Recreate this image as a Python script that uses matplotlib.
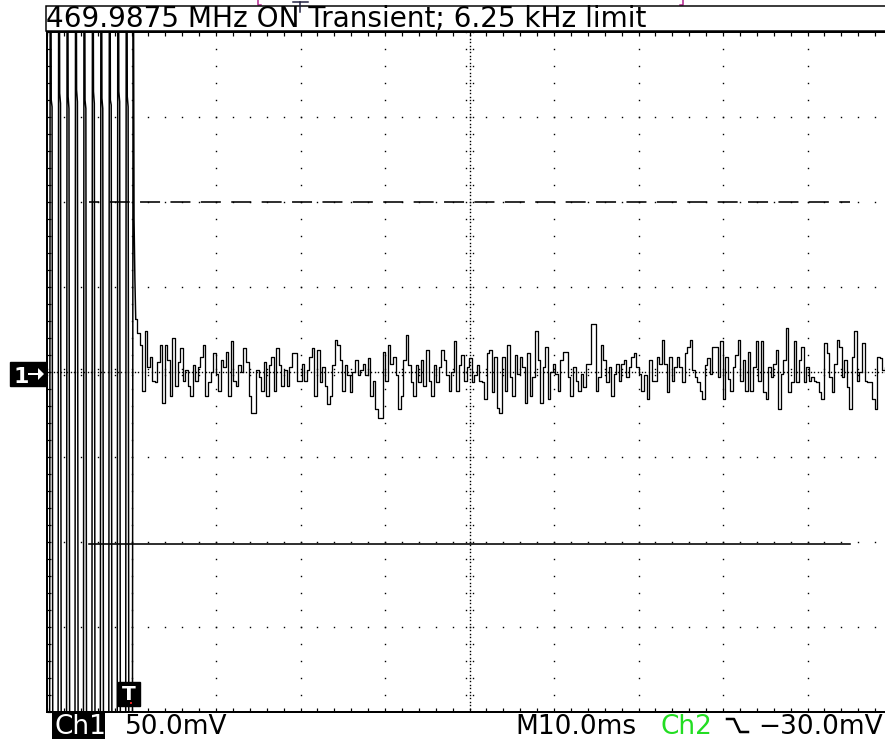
import numpy as np
import matplotlib
matplotlib.use("Agg")
import matplotlib.pyplot as plt
from matplotlib.patches import Rectangle, Polygon
from matplotlib.lines import Line2D

W, H, DPI = 885, 740, 100
PT = 72.0 / DPI  # points per pixel

# ---- labels -------------------------------------------------------------
title = "469.9875 MHz ON Transient; 6.25 kHz limit"
ch1_label = "Ch1"
ch1_scale = "50.0mV"
timebase = "M10.0ms"
trig_source = "Ch2"
trig_level = "\u221230.0mV"

# ---- scope settings -----------------------------------------------------
volts_per_div = 50.0     # mV / div
time_per_div = 10.0      # ms / div
t_left = -10.0           # ms at left screen edge (trigger at 0 ms)
n_div_x, n_div_y = 10, 8

# Ch1 before the trigger: clipped 1 kHz tone, 0.1 ms samples from t_left
burst_dt = 0.1
burst_mV = [
    -300, -300, -300, -300, 400, 160, 156, -300, -300, -300,
    -300, -300, -300, -300, 400, 164, 158, -300, -300, -300,
    -300, -300, -300, -300, 400, 162, 155, -300, -300, -300,
    -300, -300, -300, -300, 400, 166, 159, -300, -300, -300,
    -300, -300, -300, -300, 400, 160, 155, -300, -300, -300,
    -300, -300, -300, -300, 400, 165, 158, -300, -300, -300,
    -300, -300, -300, -300, 400, 161, 155, -300, -300, -300,
    -300, -300, -300, -300, 400, 160, 157, -300, -300, -300,
    -300, -300, -300, -300, 400, 165, 159, -300, -300, -300,
    -300, -300, -300, -300, 400, 162, 156, -300, -300, -300,
    -300, -300, 300, 90, 55,
]

# Ch1 after the trigger: squelched noise, 0.3 ms samples from 0.5 ms
noise_t0 = 0.5
noise_dt = 0.3
noise_mV = [
    31, 23, 16, -11, 24, 3, 9, -5, -6, 6, 16,
    -18, 16, 7, -14, 20, -8, 6, 14, -5, 1,
    -8, -14, 4, -5, 3, 9, 16, -14, -6, 0, 11,
    -1, -11, 7, 3, 12, -14, 18, -5, -8,
    4, 0, 14, 6, -14, -24, -24, 1, -3, -11,
    6, -14, 4, 9, -11, 14, 4, -8, 1, -8,
    3, 11, 11, -5, -5, 5, -5, 1, 9, 14,
    -14, 13, -6, 3, -8, -19, -14, 4, 19, 16,
    7, -11, 4, -2, -12, 0, 7, -2, 1, 5,
    -2, 8, -14, -5, -22, -27, -27, 12, -5, 16,
    5, 9, -2, -22, -14, 7, 22, 4, -6, -14,
    4, -6, 7, -8, 13, -5, -14, 4, -6, 3,
    13, 7, -2, -11, 0, 18, -11, 4, 10, -5,
    3, 8, -6, -2, 4, -5, -6, -16, 11, 13,
    -12, 9, -21, -24, 9, -11, 16, -3, -14, 10,
    -1, 9, 3, -18, 11, -14, -3, 24, 7, -18,
    3, 15, -16, 0, 5, -1, -11, 7, 12, 12,
    -3, -14, 3, -5, -11, -1, -9, 5, 5, 28,
    28, -11, -3, 16, 7, -6, 3, -14, -1, 5,
    -5, 5, 7, -3, 3, 9, 11, 3, -1, -11,
    -2, -16, 7, -5, -5, 9, 5, 19, 5, -12,
    9, -5, 3, 9, 3, -6, 11, 15, 19, 1,
    -3, -6, -11, -16, 4, 8, -1, 15, 15, -3,
    18, -16, 9, -4, -11, 3, 10, 19, -5, 7,
    -11, 12, -11, 3, 18, -5, 18, -12, -16, 3,
    -3, 5, 13, -22, -1, 7, 26, -12, -6, 18,
    -6, 7, 15, -6, 3, -5, -3, -5, -6, -12,
    -16, 17, 11, -3, -12, 5, 19, 15, -3, 7,
    -9, -22, 9, 24, -5, 0, 17, -5, -6, -6,
    -16, -22, 9, 8, 1, 3,
]

# horizontal bar cursors (mV)
cursor_upper_mV = 100.0
cursor_lower_mV = -101.0

# ---- figure -------------------------------------------------------------
fig = plt.figure(figsize=(W / DPI, H / DPI), dpi=DPI)
fig.patch.set_facecolor("white")


def fx(x):
    return x / W


def fy(y):
    return 1.0 - y / H


# screen (graticule) in pixel units; right part runs past the picture edge
scr_left, scr_top, scr_w, scr_h = 47.0, 32.0, 845.0, 680.0
ax = fig.add_axes([fx(scr_left), fy(scr_top + scr_h), scr_w / W, scr_h / H])
t_min, t_max = t_left, t_left + n_div_x * time_per_div
v_max = n_div_y / 2 * volts_per_div
v_min = -v_max
ax.set_xlim(t_min, t_max)
ax.set_ylim(v_min, v_max)
ax.set_facecolor("white")
for s in ax.spines.values():
    s.set_linewidth(2 * PT)
    s.set_color("black")

# minor graticule ticks on the frame, every 1/5 division
sub_t = time_per_div / 5
sub_v = volts_per_div / 5
ax.set_xticks(np.arange(t_min, t_max + 1e-9, sub_t))
ax.set_yticks(np.arange(v_min, v_max + 1e-9, sub_v))
ax.tick_params(direction="in", length=4 * PT, width=1.2 * PT, top=True, right=True,
               labelbottom=False, labelleft=False, color="black")

# dotted graticule
t_center = t_min + n_div_x / 2 * time_per_div
dot_kw = dict(ls="none", marker="s", ms=1.4 * PT, mew=0, color="black", zorder=1)
v_dots = np.arange(v_min, v_max + 1e-9, sub_v)
t_dots = np.arange(t_min, t_max + 1e-9, sub_t)
for k in range(1, n_div_x):
    tg = t_min + k * time_per_div
    if abs(tg - t_center) < 1e-9:
        continue
    ax.plot(np.full_like(v_dots, tg), v_dots, **dot_kw)
for k in range(1, n_div_y):
    vg = v_min + k * volts_per_div
    if abs(vg) < 1e-9:
        continue
    ax.plot(t_dots, np.full_like(t_dots, vg), **dot_kw)

# centre cross: finer dots plus small cross ticks
fine_v = np.arange(v_min, v_max + 1e-9, volts_per_div / 25)
fine_t = np.arange(t_min, t_max + 1e-9, time_per_div / 25)
ax.plot(np.full_like(fine_v, t_center), fine_v, **dot_kw)
ax.plot(fine_t, np.zeros_like(fine_t), **dot_kw)
dt_px = time_per_div / 84.5
dv_px = volts_per_div / 85.0
for off in (-3, 3):
    ax.plot(np.full_like(v_dots, t_center + off * dt_px), v_dots, **dot_kw)
    ax.plot(t_dots, np.full_like(t_dots, off * dv_px), **dot_kw)

# bar cursors
lw_c = 1.6 * PT
ax.axhline(cursor_upper_mV, xmin=0.05, xmax=0.95, color="black", lw=lw_c,
           ls=(9.75 / 1.6, (20 / 1.6, 10.4 / 1.6)), zorder=2)
ax.axhline(cursor_lower_mV, xmin=0.05, xmax=0.95, color="black", lw=lw_c,
           ls="-", zorder=2)

# Ch1 trace: pre-trigger tone joined to the post-trigger noise
burst_t = t_min + burst_dt * np.arange(len(burst_mV))
noise_t = noise_t0 + noise_dt * np.arange(len(noise_mV))
ax.plot(np.append(burst_t, noise_t[0]), np.append(burst_mV, noise_mV[0]),
        color="black", lw=1.5 * PT, zorder=3)
ax.plot(noise_t, noise_mV, color="black", lw=1.3 * PT, drawstyle="steps-mid", zorder=3)

# ---- screen annotations -------------------------------------------------
# title bar
fig.add_artist(Rectangle((fx(46), fy(31)), fx(900) - fx(46), fy(6) - fy(31),
                         transform=fig.transFigure, facecolor="white",
                         edgecolor="black", lw=1.5 * PT, zorder=5))
fig.text(fx(46), fy(27.5), title, fontsize=27.9 * PT, family="DejaVu Sans",
         va="baseline", ha="left", color="black", zorder=6)

# record position indicator above the title bar
mag = "#b0208a"
fig.add_artist(Line2D([fx(258), fx(258), fx(261)], [fy(0), fy(5), fy(5)],
                      transform=fig.transFigure, color=mag, lw=1.5 * PT))
fig.add_artist(Line2D([fx(683), fx(683), fx(680)], [fy(0), fy(5), fy(5)],
                      transform=fig.transFigure, color=mag, lw=1.5 * PT))
fig.add_artist(Line2D([fx(293), fx(308)], [fy(2), fy(2)],
                      transform=fig.transFigure, color="#202040", lw=1.5 * PT))
fig.add_artist(Line2D([fx(300), fx(300)], [fy(2), fy(12)],
                      transform=fig.transFigure, color="#202040", lw=1.5 * PT, zorder=7))

# channel 1 ground marker
fig.add_artist(Rectangle((fx(10), fy(386)), fx(46) - fx(10), fy(362) - fy(386),
                         transform=fig.transFigure, facecolor="black",
                         edgecolor="black", zorder=5))
fig.text(fx(13), fy(383), "1", fontsize=22 * PT, color="white", weight="bold",
         va="baseline", ha="left", zorder=6)
fig.add_artist(Line2D([fx(29), fx(40)], [fy(374), fy(374)], transform=fig.transFigure,
                      color="white", lw=2 * PT, zorder=6))
fig.add_artist(Polygon([(fx(38), fy(368)), (fx(44), fy(374)), (fx(38), fy(380))],
                       closed=True, transform=fig.transFigure, facecolor="white",
                       edgecolor="none", zorder=6))

# trigger position marker
fig.add_artist(Rectangle((fx(118), fy(706)), fx(140) - fx(118), fy(682) - fy(706),
                         transform=fig.transFigure, facecolor="black",
                         edgecolor="black", zorder=5))
fig.text(fx(129), fy(694), "T", fontsize=20 * PT, color="white", weight="bold",
         va="center", ha="center", zorder=6)
fig.add_artist(Rectangle((fx(130), fy(704)), 2 / W, 2 / H, transform=fig.transFigure,
                         facecolor="#e02020", edgecolor="none", zorder=7))

# readout line
fs_read = 26.4 * PT
base = fy(734.5)
fig.add_artist(Rectangle((fx(52), fy(739)), fx(105) - fx(52), fy(713) - fy(739),
                         transform=fig.transFigure, facecolor="black",
                         edgecolor="none", zorder=5))
fig.text(fx(54), base, ch1_label, fontsize=fs_read, color="white",
         va="baseline", ha="left", zorder=6)
fig.text(fx(125), base, ch1_scale, fontsize=fs_read, color="black",
         va="baseline", ha="left")
fig.text(fx(515), base, timebase, fontsize=fs_read, color="black",
         va="baseline", ha="left")
fig.text(fx(661), base, trig_source, fontsize=fs_read, color="#22dd22",
         va="baseline", ha="left")
# falling-slope symbol
fig.add_artist(Line2D([fx(727), fx(734), fx(740), fx(748)],
                      [fy(719), fy(719), fy(732), fy(732)],
                      transform=fig.transFigure, color="black", lw=2.5 * PT))
fig.text(fx(758), base, trig_level, fontsize=fs_read, color="black",
         va="baseline", ha="left")

fig.savefig("out.png", dpi=DPI, facecolor="white")
